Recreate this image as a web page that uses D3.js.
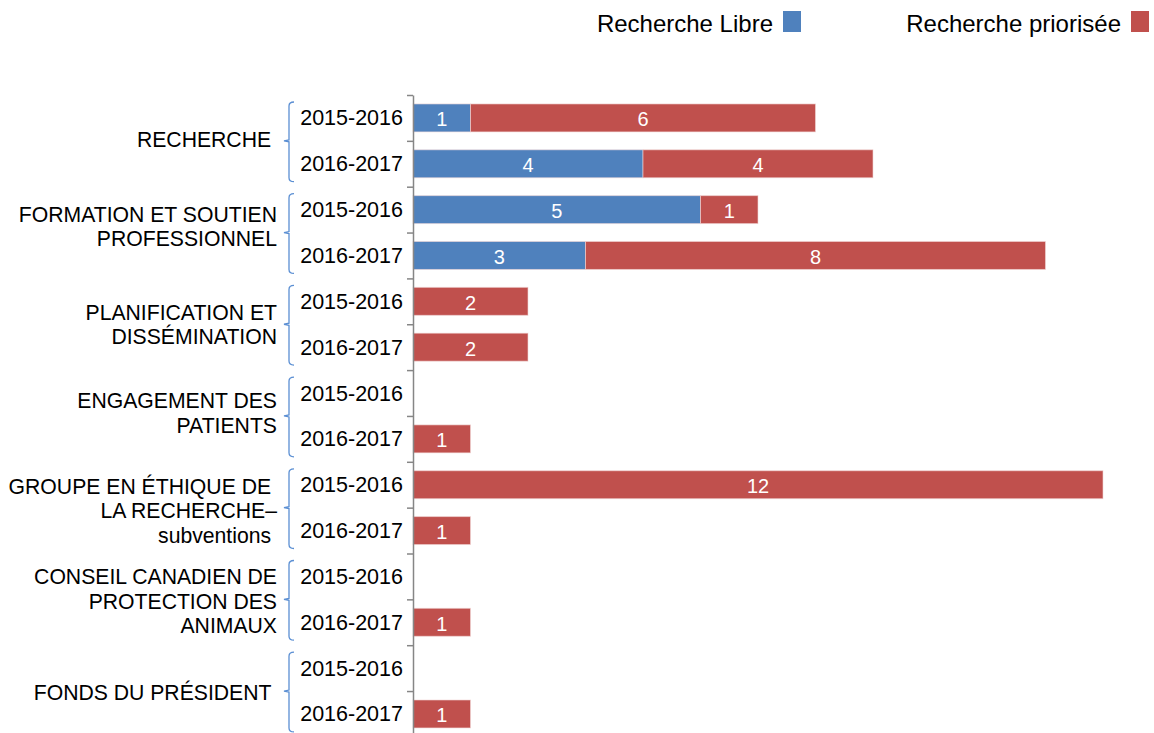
<!DOCTYPE html>
<html>
<head>
<meta charset="utf-8">
<script src="https://cdn.jsdelivr.net/npm/d3@7"></script>
<style>
  body { margin: 0; background: #fff; }
  text { font-family: "Liberation Sans", Arial, sans-serif; fill: #000; white-space: pre; }
</style>
</head>
<body>
<div id="chart"></div>
<script>
// data
var groups = [
  ["RECHERCHE "],
  ["FORMATION ET SOUTIEN", "PROFESSIONNEL"],
  ["PLANIFICATION ET", "DISSÉMINATION"],
  ["ENGAGEMENT DES", "PATIENTS"],
  ["GROUPE EN ÉTHIQUE DE ", "LA RECHERCHE–", "subventions "],
  ["CONSEIL CANADIEN DE", "PROTECTION DES", "ANIMAUX"],
  ["FONDS DU PRÉSIDENT "]
];
var years = ["2015-2016", "2016-2017"];
var libre = [[1, 4], [5, 3], [0, 0], [0, 0], [0, 0], [0, 0], [0, 0]];
var priorisee = [[6, 4], [1, 8], [2, 2], [0, 1], [12, 1], [0, 1], [0, 1]];
var seriesNames = ["Recherche Libre", "Recherche priorisée"];
var colors = ["#4F81BD", "#C0504D"];

var width = 1154, height = 733;
var axisX = 413, topY = 95, step = 45.85;
// small vertical nudges of the group labels, as in the source layout
var labelShift = [-1, -6, 0, -3, 3, 2, 1];

// rows
var rows = [];
groups.forEach(function (g, gi) {
  years.forEach(function (yr, yi) {
    rows.push({ key: gi + "-" + yi, group: gi, year: yr, libre: libre[gi][yi], prio: priorisee[gi][yi] });
  });
});

var svg = d3.select("#chart").append("svg")
  .attr("width", width)
  .attr("height", height);

var x = d3.scaleLinear().domain([0, 12]).range([axisX, 1103]);
var yIdx = d3.scaleLinear().domain([0, rows.length]).range([topY, topY + rows.length * step]);
var y = d3.scaleBand()
  .domain(rows.map(function (d) { return d.key; }))
  .range([topY, topY + rows.length * step])
  .paddingInner(0.39)
  .paddingOuter(0.195);

// bars
var stacked = rows.map(function (d) {
  return [
    { row: d, s: 0, x0: 0, x1: d.libre, v: d.libre },
    { row: d, s: 1, x0: d.libre, x1: d.libre + d.prio, v: d.prio }
  ];
}).flat().filter(function (d) { return d.v > 0; });

svg.append("g").selectAll("rect")
  .data(stacked)
  .enter().append("rect")
  .attr("x", function (d) { return x(d.x0); })
  .attr("y", function (d) { return y(d.row.key); })
  .attr("width", function (d) { return x(d.x1) - x(d.x0); })
  .attr("height", y.bandwidth())
  .attr("fill", function (d) { return colors[d.s]; })
  .attr("stroke", "#f2d9d8")
  .attr("stroke-opacity", 0.6)
  .attr("stroke-width", 1);

svg.append("g").selectAll("text")
  .data(stacked)
  .enter().append("text")
  .attr("x", function (d) { return (x(d.x0) + x(d.x1)) / 2; })
  .attr("y", function (d) { return y(d.row.key) + y.bandwidth() / 2 + 8.5; })
  .attr("text-anchor", "middle")
  .style("font-size", "20px")
  .style("fill", "#fff")
  .text(function (d) { return d.v; });

// axis
var axis = svg.append("g")
  .attr("transform", "translate(" + axisX + ",0)")
  .call(d3.axisLeft(yIdx).tickValues(d3.range(0, rows.length + 1)).tickSize(6).tickSizeOuter(0).tickFormat(""));
axis.selectAll("path, line").attr("stroke", "#868686").attr("stroke-width", 1.5);

// year labels
svg.append("g").selectAll("text")
  .data(rows)
  .enter().append("text")
  .attr("x", 403)
  .attr("y", function (d) { return y(d.key) + y.bandwidth() / 2 + 7.5; })
  .attr("text-anchor", "end")
  .style("font-size", "21.5px")
  .text(function (d) { return d.year; });

// group brackets and labels
var bracketColor = "#5B8FD3";
groups.forEach(function (lines, gi) {
  var y0 = yIdx(gi * 2) + 7, y1 = yIdx(gi * 2 + 2) - 5;
  var ym = (yIdx(gi * 2) + yIdx(gi * 2 + 2)) / 2;
  var bx = 289;
  svg.append("path")
    .attr("d", "M" + (bx + 5) + "," + y0 + " Q" + bx + "," + y0 + " " + bx + "," + (y0 + 4) +
      " L" + bx + "," + (ym - 1) + " L" + (bx - 5) + "," + ym + " L" + bx + "," + (ym + 1) +
      " L" + bx + "," + (y1 - 4) + " Q" + bx + "," + y1 + " " + (bx + 5) + "," + y1)
    .attr("fill", "none")
    .attr("stroke", bracketColor)
    .attr("stroke-width", 1.3);

  var lh = 24.5;
  lines.forEach(function (t, li) {
    svg.append("text")
      .attr("x", 277)
      .attr("y", ym + labelShift[gi] + (li - (lines.length - 1) / 2) * lh + 7.5)
      .attr("text-anchor", "end")
      .style("font-size", "21.2px")
      .text(t);
  });
});

// legend
var legendEnds = [773, 1121];
seriesNames.forEach(function (name, i) {
  svg.append("text")
    .attr("x", legendEnds[i])
    .attr("y", 32)
    .attr("text-anchor", "end")
    .style("font-size", "24px")
    .text(name);
  svg.append("rect")
    .attr("x", legendEnds[i] + 10)
    .attr("y", 11)
    .attr("width", 18)
    .attr("height", 21)
    .attr("fill", colors[i]);
});
</script>
</body>
</html>
